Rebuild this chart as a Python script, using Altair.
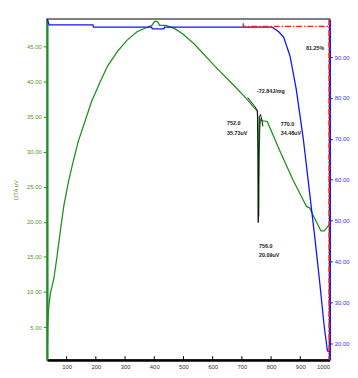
import altair as alt
import pandas as pd

# DTA curve (temperature °C, uV)
dta_t = [34, 35, 38, 44, 50, 56.5, 67.5, 79, 90, 107, 123, 140, 162.5, 185, 213, 240, 274, 307,
         341, 374, 392, 400, 405, 412, 418, 440, 472, 500, 538, 605, 671, 715, 743, 748, 753, 755,
         756, 757, 758, 759, 761, 764, 771, 787, 792, 832, 876, 910, 921, 932, 943, 971, 982, 999]
dta_v = [2.3, 5.0, 7.5, 9.8, 10.8, 12.0, 15.2, 18.9, 22.2, 25.9, 28.7, 31.5, 34.3, 37.1, 39.8, 42.2,
         44.3, 45.9, 47.1, 47.7, 48.0, 48.5, 48.6, 48.5, 48.0, 48.0, 47.5, 46.7, 45.3, 42.3, 39.5,
         37.6, 36.2, 36.0, 35.8, 34.8, 28.8, 20.7, 21.0, 28.5, 33.2, 34.6, 34.4, 34.3, 33.8, 29.9,
         25.9, 23.1, 22.2, 22.0, 21.0, 18.7, 18.7, 19.6]

# peak integration overlay (black)
pk_t = [720, 745, 753, 755, 756, 757, 758, 760, 764, 768, 772]
pk_v = [37.7, 36.4, 35.9, 30.0, 19.9, 25.0, 30.0, 35.0, 35.3, 34.6, 33.6]

# TG curve (temperature °C, %)
tg_t = [33, 40, 190, 192, 391, 393, 433, 435, 804, 826, 843, 865, 886, 910, 932, 949, 966, 982, 993, 1000]
tg_p = [99.3, 97.9, 97.9, 97.3, 97.3, 96.9, 96.9, 97.3, 97.3, 96.2, 94.9, 90.2, 82.2, 70.2, 56.8,
        46.4, 35.3, 24.1, 18.1, 18.0]

# red dash-dot construction lines
red_h_t = [705, 705, 1000]
red_h_p = [98.3, 97.5, 97.5]
red_v_t = [999, 999]
red_v_p = [99.3, 16.0]

# annotations
ann_text = ["752.0", "35.73uV", "770.0", "34.48uV", "-72.84J/mg", "756.0", "20.09uV", "81.25%"]
ann_t = [649, 649, 833, 833, 752, 759, 759, 920]
ann_v = [34.1, 32.6, 34.0, 32.6, 38.7, 16.6, 15.2, 44.7]

x_ticks = [100, 200, 300, 400, 500, 600, 700, 800, 900, 1000]
dta_ticks = [5, 10, 15, 20, 25, 30, 35, 40, 45]
tg_ticks = [20, 30, 40, 50, 60, 70, 80, 90]

GREEN = "#1f8f1f"
BLUE = "#1010ff"
RED = "#ff1a1a"

xs = alt.Scale(domain=[33, 1000], nice=False)
ys_dta = alt.Scale(domain=[0.3, 48.9], nice=False)
ys_tg = alt.Scale(domain=[15.9, 99.3], nice=False)

x_axis = alt.Axis(values=x_ticks, format="d", labelFontSize=6, labelColor="#333",
                  domainColor="#000", domainWidth=2.5, ticks=False, labelPadding=4,
                  grid=False, title="")
dta_axis = alt.Axis(values=dta_ticks, format=".2f", labelFontSize=6, labelColor="#5a8f1a",
                    domainColor=GREEN, domainWidth=2, tickColor=GREEN, tickSize=4,
                    grid=False, title="DTA uV", titleColor="#5a8f1a", titleFontSize=6,
                    titleFontWeight="normal", titlePadding=8)
tg_axis = alt.Axis(orient="right", values=tg_ticks, format=".2f", labelFontSize=6,
                   labelColor="#3030ff", domainColor=BLUE, domainWidth=2, tickColor=BLUE,
                   tickSize=3, grid=False, title="")

X = alt.X("t:Q", scale=xs, axis=x_axis, title="")
Y_DTA = alt.Y("v:Q", scale=ys_dta, axis=dta_axis, title="DTA uV")
Y_TG = alt.Y("p:Q", scale=ys_tg, axis=tg_axis, title="")

dta_df = pd.DataFrame({"t": dta_t, "v": dta_v, "i": range(len(dta_t))})
pk_df = pd.DataFrame({"t": pk_t, "v": pk_v, "i": range(len(pk_t))})
tg_df = pd.DataFrame({"t": tg_t, "p": tg_p, "i": range(len(tg_t))})
rh_df = pd.DataFrame({"t": red_h_t, "p": red_h_p, "i": range(len(red_h_t))})
rv_df = pd.DataFrame({"t": red_v_t, "p": red_v_p, "i": range(len(red_v_t))})
ann_df = pd.DataFrame({"t": ann_t, "v": ann_v, "txt": ann_text})
xt_df = pd.DataFrame({"t": x_ticks})

dta_line = alt.Chart(dta_df).mark_line(color=GREEN, strokeWidth=1.3).encode(
    x=X, y=Y_DTA, order="i:Q"
)
pk_line = alt.Chart(pk_df).mark_line(color="#111", strokeWidth=1).encode(
    x=X, y=Y_DTA, order="i:Q"
)
ann = alt.Chart(ann_df).mark_text(align="left", baseline="middle", fontSize=5.5,
                                  fontWeight="bold", color="#222", font="Liberation Sans").encode(
    x=X, y=Y_DTA, text="txt:N"
)
xticks = alt.Chart(xt_df).mark_rule(color="#000", strokeWidth=1).encode(
    x=X, y=alt.value(349), y2=alt.value(345)
)

left = alt.layer(dta_line, pk_line, ann, xticks)

tg_line = alt.Chart(tg_df).mark_line(color=BLUE, strokeWidth=1.3).encode(
    x=X, y=Y_TG, order="i:Q"
)
red_h = alt.Chart(rh_df).mark_line(color=RED, strokeWidth=1.4, strokeDash=[6, 2, 1.5, 2]).encode(
    x=X, y=Y_TG, order="i:Q"
)
red_v = alt.Chart(rv_df).mark_line(color=RED, strokeWidth=1.6, strokeDash=[6, 2, 1.5, 2]).encode(
    x=X, y=Y_TG, order="i:Q"
)

right = alt.layer(tg_line, red_h, red_v)

chart = alt.layer(left, right).resolve_scale(y="independent").properties(
    width=289, height=349, autosize="none",
    padding={"left": 40, "top": 7, "right": 21, "bottom": 12},
    background="white",
).configure_view(stroke="#555", strokeWidth=1.5).configure_axis(
    labelFont="Liberation Sans", titleFont="Liberation Sans"
)

chart.save("out.html", embed_options={"renderer": "svg", "actions": False})
